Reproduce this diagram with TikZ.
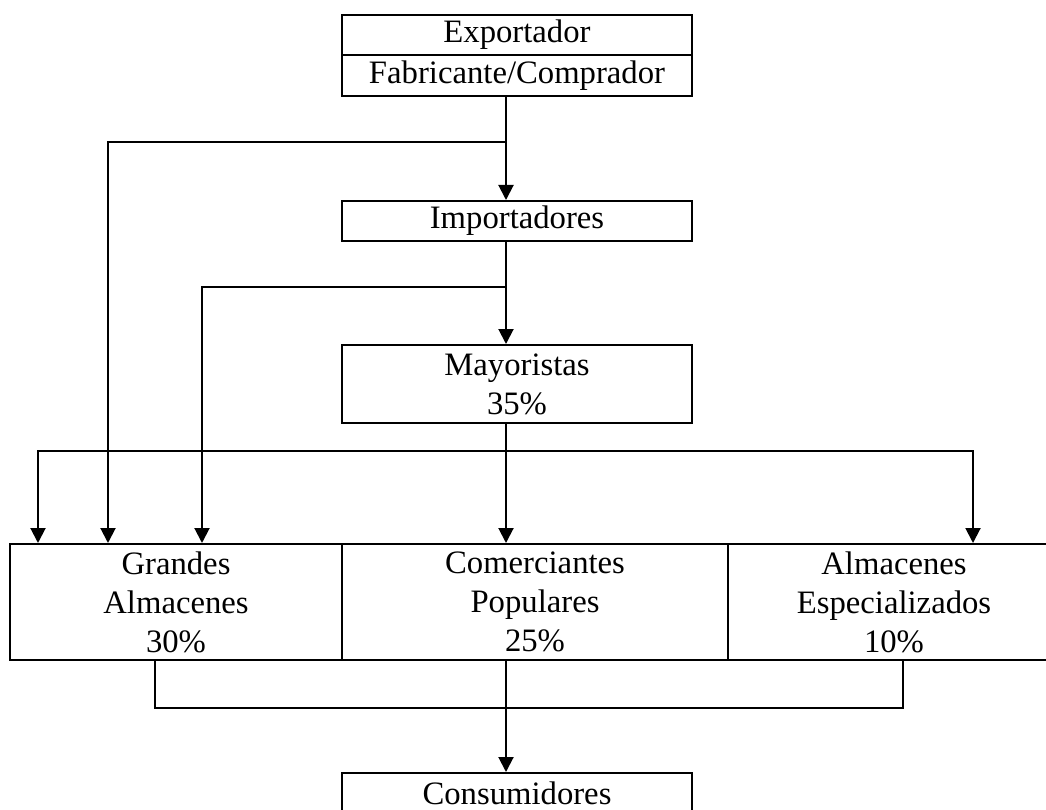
\documentclass[tikz,border=0pt]{standalone}
\usepackage{fontspec}
\setmainfont{Liberation Serif}
\usetikzlibrary{arrows.meta}
\begin{document}
\begin{tikzpicture}[x=1pt,y=-1pt,
  box/.style={draw, line width=2pt, inner sep=0pt, align=center,
    font=\fontsize{32.7}{39}\selectfont},
  arr/.style={line width=2pt, -{Triangle[width=15pt,length=15pt]}},
  conn/.style={line width=2pt}]
\useasboundingbox (0,0) rectangle (1046,810);
\clip (0,0) rectangle (1046,810);
\fill[white] (0,0) rectangle (1046,810);
\node[box, minimum width=350pt, minimum height=40pt] (exp) at (517,35) {Exportador};
\node[box, minimum width=350pt, minimum height=41pt] (fab) at (517,75.5) {Fabricante/Comprador};
\node[box, minimum width=350pt, minimum height=40pt] (imp) at (517,221) {Importadores};
\node[box, minimum width=350pt, minimum height=78pt] (may) at (517,384) {Mayoristas\\35\%};
\node[box, minimum width=332pt, minimum height=116pt] (gra) at (176,602) {Grandes\\Almacenes\\30\%};
\node[box, minimum width=386pt, minimum height=116pt] (com) at (535,602) {Comerciantes\\Populares\\25\%};
\node[box, minimum width=332pt, minimum height=116pt] (alm) at (894,602) {Almacenes\\Especializados\\10\%};
\node[box, minimum width=350pt, minimum height=40pt] (con) at (517,793) {Consumidores};
\coordinate (xm) at (506,0);
\coordinate (b1) at (108,142);
\coordinate (b2) at (202,287);
\coordinate (h1) at (38,451);
\coordinate (h2) at (973,451);
\coordinate (g1) at (155,708);
\coordinate (g2) at (903,708);
\draw[arr] (fab.south -| xm) -- (imp.north -| xm);
\draw[arr] (b1 -| xm) -- (b1) -- (gra.north -| b1);
\draw[arr] (imp.south -| xm) -- (may.north -| xm);
\draw[arr] (b2 -| xm) -- (b2) -- (gra.north -| b2);
\draw[arr] (may.south -| xm) -- (com.north -| xm);
\draw[arr] (h1 -| xm) -- (h1) -- (gra.north -| h1);
\draw[arr] (h1 -| xm) -- (h2) -- (alm.north -| h2);
\draw[conn] (gra.south -| g1) -- (g1) -- (g2) -- (alm.south -| g2);
\draw[arr] (com.south -| xm) -- (con.north -| xm);
\end{tikzpicture}
\end{document}
